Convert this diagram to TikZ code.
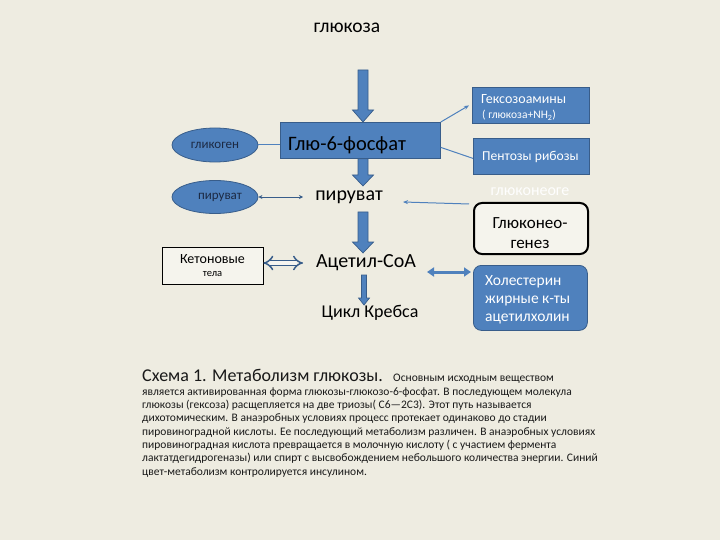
\documentclass[tikz,border=0pt]{standalone}
\usepackage{fontspec}
\setmainfont{Carlito}
\usetikzlibrary{arrows.meta,shapes.geometric,calc}
\definecolor{bg}{HTML}{EEECE1}
\definecolor{blueF}{HTML}{4F81BD}
\definecolor{blueD}{HTML}{385D8A}
\definecolor{navy}{HTML}{1C2A44}
% #1 start, #2 end (vertical, downward), #3 half shaft, #4 half head, #5 head length
\newcommand\blkarrow[5]{%
  \draw[draw=blueD, fill=blueF, line width=0.7pt, line join=miter]
    ($(#1)+(-#3,0)$) -- ($(#2)+(-#3,-#5)$) -- ($(#2)+(-#4,-#5)$) -- (#2)
    -- ($(#2)+(#4,-#5)$) -- ($(#2)+(#3,-#5)$) -- ($(#1)+(#3,0)$) -- cycle;}
\begin{document}
\begin{tikzpicture}[x=1pt,y=-1pt,
  bluebox/.style={draw=blueD, fill=blueF, line width=0.8pt, inner sep=0pt},
  conn/.style={draw=blueF, line width=1pt},
  lbl/.style={inner sep=0pt},
  captxt/.style={anchor=base west, inner sep=0pt, font=\fontsize{11.5}{13}\selectfont, text=black!90}]
\fill[bg] (0,0) rectangle (720,540);
\useasboundingbox (0,0) rectangle (720,540);

% title
\node[lbl, font=\fontsize{19.5}{23}\selectfont] (glc) at (347,28) {глюкоза};

% central column
\node[bluebox, anchor=north west, minimum width=160pt, minimum height=36pt] (g6p) at (280,122) {};
\node[lbl, anchor=west, font=\fontsize{20.5}{24}\selectfont] (g6pt) at (288,145) {Глю-6-фосфат};
\node[lbl, font=\fontsize{20}{24}\selectfont] (pyr) at (349,197) {пируват};
\node[lbl, font=\fontsize{20}{24}\selectfont] (acoa) at (366,263) {Ацетил-СоА};
\node[lbl, font=\fontsize{18}{22}\selectfont] (krebs) at (370,313) {Цикл Кребса};

\coordinate (a1s) at (363,70);
\coordinate (a1e) at (a1s |- g6p.north);
\coordinate (a2s) at (g6p.south -| a1s);
\coordinate (a2e) at (363,186);
\coordinate (a3s) at (363,212);
\coordinate (a3e) at (363,253);
\coordinate (a4s) at (364,275);
\coordinate (a4e) at (364,305);
\blkarrow{a1s}{a1e}{5}{10.5}{12}
\blkarrow{a2s}{a2e}{5}{10.5}{11}
\blkarrow{a3s}{a3e}{5}{10.5}{11}
\blkarrow{a4s}{a4e}{2.5}{5.5}{7}

% left column
\node[ellipse, bluebox, minimum width=86pt, minimum height=34pt, font=\fontsize{13}{15}\selectfont, text=navy] (glyc) at (215,145) {гликоген};
\node[ellipse, bluebox, minimum width=86pt, minimum height=33pt, font=\fontsize{13}{15}\selectfont, text=navy] (pyrE) at (215,197) {\hspace{10pt}пируват};
\node[draw=black, fill=bg!60!white, line width=0.7pt, minimum width=101pt, minimum height=37pt, inner sep=0pt, align=center] (ket) at (212.5,265.5)
  {\fontsize{14}{16}\selectfont Кетоновые\\[1pt]{\fontsize{10.5}{12}\selectfont тела}};

\draw[conn] (glyc.east) -- (glyc.east -| g6p.west);
\coordinate (pyrL) at (303,197);
\draw[draw=blueD, line width=0.8pt, {Stealth[length=4pt,width=4pt]}-{Stealth[length=4pt,width=4pt]}] (pyrE.east) -- (pyrL);
\coordinate (acL) at (303,263);
\draw[draw=blueD, double=bg!50!white, double distance=3.5pt, line width=1.5pt, {Implies}-{Implies}] (ket.east |- acL) -- (acL);

% right column
\node[bluebox, anchor=north west, minimum width=117pt, minimum height=36pt] (hex) at (472,87) {};
\node[lbl, anchor=west, text=white, font=\fontsize{14}{16}\selectfont] (hext) at (481,99) {Гексозоамины};
\node[lbl, anchor=west, text=white, font=\fontsize{11.5}{13}\selectfont] (hext2) at (482,115) {( глюкоза+NH\textsubscript{2})};
\node[bluebox, anchor=north west, minimum width=116pt, minimum height=36pt] (pent) at (473,138) {};
\node[lbl, anchor=west, text=white, font=\fontsize{13.6}{15}\selectfont] (pentt) at (482,157) {Пентозы рибозы};

\node[lbl, text=white!96!bg, font=\fontsize{16}{18}\selectfont] (ghost) at (530,192) {глюконеоге};
\node[draw=black, line width=2pt, rounded corners=8pt, fill=bg!60!white, anchor=north west, minimum width=114pt, minimum height=51pt, inner sep=0pt] (gng) at (473,202) {};
\node[lbl, align=center, font=\fontsize{17}{20}\selectfont] (gngt) at (530,233) {Глюконео-\\генез};

\node[bluebox, rounded corners=8pt, anchor=north west, minimum width=114pt, minimum height=65pt] (chol) at (473,265) {};
\node[lbl, anchor=west, align=left, text=white, font=\fontsize{15.5}{18}\selectfont] (cholt) at (485,300) {Холестерин\\жирные к-ты\\ацетилхолин};

% right connectors
\draw[conn, -{Stealth[length=5pt,width=4pt]}] (g6p.north east) -- ([xshift=-3pt]hex.west);
\draw[conn] ([yshift=-7pt]g6p.east) -- ([yshift=-2pt]pent.west);
\coordinate (pyrR) at (403,202);
\draw[conn, -{Stealth[length=5pt,width=4pt]}] ([xshift=-4pt,yshift=-2pt]gng.north west) -- (pyrR);
\coordinate (acR) at (427,272);
\coordinate (cholL) at (471,272);
\draw[draw=blueF, line width=3pt, {Triangle[length=7pt,width=9pt]}-{Triangle[length=7pt,width=9pt]}] (acR) -- (cholL);

% caption
\node[anchor=base west, inner sep=0pt, font=\fontsize{18}{22}\selectfont, text=black!90] (cap) at (142,381) {Схема 1. Метаболизм глюкозы.};
\node[captxt] (cap0) at (393,381) {Основным исходным веществом};
\node[captxt] (l1) at (142,395) {является активированная форма глюкозы-глюкозо-6-фосфат. В последующем молекула};
\node[captxt] (l2) at (142,408) {глюкозы (гексоза) расщепляется на две триозы( С6—2С3). Этот путь называется};
\node[captxt] (l3) at (142,421) {дихотомическим. В анаэробных условиях процесс протекает одинаково до стадии};
\node[captxt] (l4) at (142,435) {пировиноградной кислоты. Ее последующий метаболизм различен. В анаэробных условиях};
\node[captxt] (l5) at (142,448) {пировиноградная кислота превращается в молочную кислоту ( с участием фермента};
\node[captxt] (l6) at (142,461) {лактатдегидрогеназы) или спирт с высвобождением небольшого количества энергии. Синий};
\node[captxt] (l7) at (142,475) {цвет-метаболизм контролируется инсулином.};
\end{tikzpicture}
\end{document}
